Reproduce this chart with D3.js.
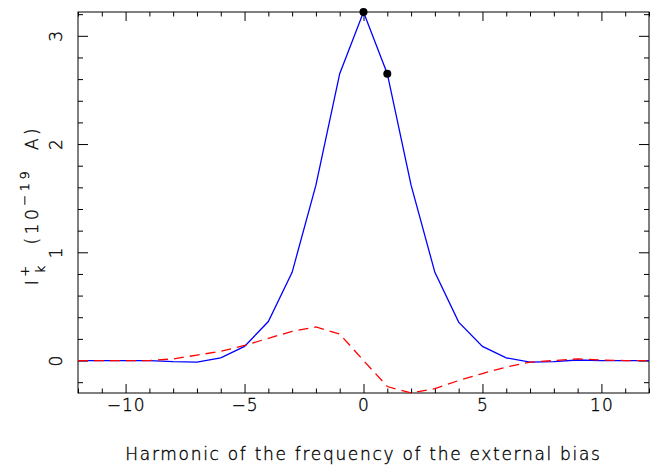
<!DOCTYPE html>
<html>
<head>
<meta charset="utf-8">
<script src="https://cdn.jsdelivr.net/npm/d3@7"></script>
<style>
  body { margin: 0; background: #fff; }
  svg { display: block; }
  .axis path, .axis line { stroke: #000; stroke-width: 1; }
  text { font-family: "DejaVu Sans", "Noto Sans", sans-serif; font-weight: 200; fill: #000; stroke: #000; stroke-width: 0.35; }
</style>
</head>
<body>
<div id="chart"></div>
<script>

/* Data */
var harmonics = [-12, -11, -10, -9, -8, -7, -6, -5, -4, -3, -2, -1, 0, 1, 2, 3, 4, 5, 6, 7, 8, 9, 10, 11, 12];
var currentTotal = [0, 0, 0, 0, -0.01, -0.015, 0.025, 0.13, 0.36, 0.815, 1.62, 2.65, 3.22, 2.65, 1.62, 0.815, 0.355, 0.13, 0.025, -0.015, -0.01, 0.005, 0, 0, 0];
var currentOdd = [0, 0, 0, 0, 0.015, 0.05, 0.085, 0.14, 0.205, 0.27, 0.31, 0.245, 0, -0.24, -0.30, -0.26, -0.185, -0.12, -0.06, -0.015, 0, 0.015, 0.005, 0, 0];
var markedHarmonics = [0, 1];
var xMajorTicks = [-10, -5, 0, 5, 10];
var xMinorTicks = [-12, -11, -9, -8, -7, -6, -4, -3, -2, -1, 1, 2, 3, 4, 6, 7, 8, 9, 11, 12];
var yMajorTicks = [0, 1, 2, 3];
var yMinorTicks = [-0.2, 0.2, 0.4, 0.6, 0.8, 1.2, 1.4, 1.6, 1.8, 2.2, 2.4, 2.6, 2.8, 3.2];

var width = 656, height = 466;
var margin = { top: 12, left: 78, right: 7, bottom: 73 };
var fontSize = 17;

var svg = d3.select("#chart").append("svg")
    .attr("width", width)
    .attr("height", height);

var x = d3.scaleLinear()
    .domain([-12, 12])
    .range([margin.left, width - margin.right]);

var y = d3.scaleLinear()
    .domain([-0.30, 3.22])
    .range([height - margin.bottom, margin.top]);

var x0 = x.range()[0], x1 = x.range()[1], y0 = y.range()[0], y1 = y.range()[1];

/* Axes: ticks drawn inward on all four sides */
function addAxis(axis, tx, ty) {
    var g = svg.append("g")
        .attr("class", "axis")
        .attr("transform", "translate(" + tx + "," + ty + ")")
        .call(axis);
    g.select(".domain").remove();
    return g;
}

var bottom = addAxis(d3.axisBottom(x).tickValues(xMajorTicks).tickSize(-9).tickPadding(6)
    .tickFormat(function(d) { return d < 0 ? "\u2212" + Math.abs(d) : d; }), 0, y0);
addAxis(d3.axisBottom(x).tickValues(xMinorTicks).tickSize(-4.5).tickFormat(""), 0, y0);
addAxis(d3.axisTop(x).tickValues(xMajorTicks).tickSize(-9).tickFormat(""), 0, y1);
addAxis(d3.axisTop(x).tickValues(xMinorTicks).tickSize(-4.5).tickFormat(""), 0, y1);

var left = addAxis(d3.axisLeft(y).tickValues(yMajorTicks).tickSize(-10).tickFormat(d3.format("d")), x0, 0);
addAxis(d3.axisLeft(y).tickValues(yMinorTicks).tickSize(-5).tickFormat(""), x0, 0);
addAxis(d3.axisRight(y).tickValues(yMajorTicks).tickSize(-10).tickFormat(""), x1, 0);
addAxis(d3.axisRight(y).tickValues(yMinorTicks).tickSize(-5).tickFormat(""), x1, 0);

bottom.selectAll("text")
    .attr("font-size", fontSize)
    .attr("font-family", null)
    .style("letter-spacing", "1px");

left.selectAll("text")
    .attr("font-size", fontSize)
    .attr("font-family", null)
    .attr("x", 0)
    .attr("dy", 0)
    .attr("text-anchor", "middle")
    .attr("transform", "translate(-16,0) rotate(-90)");

/* Frame */
svg.append("rect")
    .attr("x", x0)
    .attr("y", y1)
    .attr("width", x1 - x0)
    .attr("height", y0 - y1)
    .attr("fill", "none")
    .attr("stroke", "#000")
    .attr("stroke-width", 1);

/* Curves */
var line = d3.line()
    .x(function(d) { return x(d[0]); })
    .y(function(d) { return y(d[1]); });

svg.append("path")
    .datum(d3.zip(harmonics, currentTotal))
    .attr("d", line)
    .attr("fill", "none")
    .attr("stroke", "#0000ff")
    .attr("stroke-width", 1.3);

svg.append("path")
    .datum(d3.zip(harmonics, currentOdd))
    .attr("d", line)
    .attr("fill", "none")
    .attr("stroke", "#ff0000")
    .attr("stroke-width", 1.3)
    .attr("stroke-dasharray", "10,6");

svg.selectAll("circle.mark")
    .data(markedHarmonics)
    .enter().append("circle")
    .attr("class", "mark")
    .attr("cx", function(d) { return x(d); })
    .attr("cy", function(d) { return y(currentTotal[harmonics.indexOf(d)]); })
    .attr("r", 4)
    .attr("fill", "#000");

/* Axis titles */
svg.append("text")
    .attr("x", (x0 + x1) / 2)
    .attr("y", 460)
    .attr("text-anchor", "middle")
    .attr("font-size", fontSize)
    .style("letter-spacing", "1.7px")
    .text("Harmonic of the frequency of the external bias");

var ylab = svg.append("text")
    .attr("text-anchor", "middle")
    .attr("font-size", fontSize)
    .attr("transform", "translate(38," + 205 + ") rotate(-90)")
    .style("letter-spacing", "3.5px");
ylab.append("tspan").text("I");
ylab.append("tspan").attr("font-size", 13).attr("dy", -9).text("+");
ylab.append("tspan").attr("font-size", 13).attr("dx", -11).attr("dy", 16).text("k");
ylab.append("tspan").attr("dy", -7).text("\u00a0\u00a0(10");
ylab.append("tspan").attr("font-size", 13).attr("dy", -9).text("\u221219");
ylab.append("tspan").attr("dy", 9).text("\u00a0\u00a0A)");

</script>
</body>
</html>
